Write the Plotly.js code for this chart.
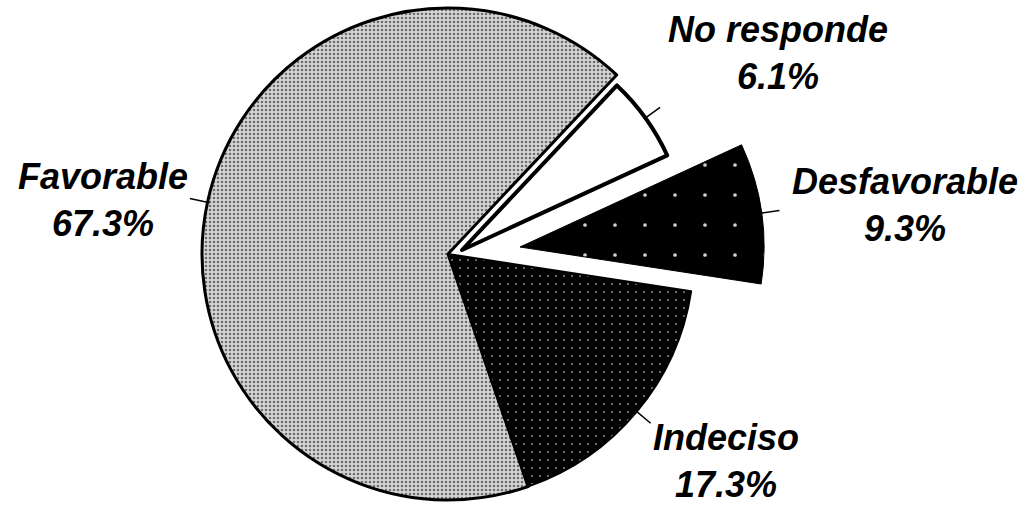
<!DOCTYPE html>
<html><head><meta charset="utf-8">
<script src="https://cdn.plot.ly/plotly-3.0.1.min.js"></script>
<style>html,body{margin:0;padding:0;background:#fff}#chart{width:1029px;height:507px}</style>
</head><body><div id="chart"></div>
<script>
// Data
const categories = ['Favorable', 'No responde', 'Desfavorable', 'Indeciso'];
const shares = [67.3, 6.1, 9.3, 17.3];

// Styling per slice
const sliceBg = ['#d6d6d6', '#ffffff', '#000000', '#030303'];
const sliceFg = ['#6e6e6e', '#ffffff', '#d0d0d0', '#8a8a8a'];
const sliceShape = ['.', '', '.', '.'];
const sliceSize = [4, 8, 30, 8];
const sliceSolidity = [0.33, 0.1, 0.012, 0.05];
const sliceLine = [3, 4, 1, 2];

// Label block centres in pixels (layout)
const labelCentre = [[103, 200], [778, 53], [905, 205], [726, 461]];

const W = 1029, H = 507, ROT = 161;
function dom(cx, cy, r) {
  return {x: [(cx - r) / W, (cx + r) / W], y: [1 - (cy + r) / H, 1 - (cy - r) / H]};
}
// which slices each layer shows, and where the layer sits (exploded pieces)
const layers = [
  {show: [0, 3], cx: 448, cy: 254, r: 246},
  {show: [1], cx: 462, cy: 250, r: 226},
  {show: [2], cx: 520, cy: 247, r: 244}
];

const traces = layers.map(L => {
  const vis = categories.map((c, i) => L.show.includes(i));
  return {
    type: 'pie',
    labels: categories,
    values: shares,
    sort: false,
    direction: 'clockwise',
    rotation: ROT,
    domain: dom(L.cx, L.cy, L.r),
    textinfo: 'none',
    marker: {
      colors: vis.map((v, i) => v ? sliceBg[i] : 'rgba(0,0,0,0)'),
      line: {color: vis.map(v => v ? '#000' : 'rgba(0,0,0,0)'), width: vis.map((v, i) => v ? sliceLine[i] : 0)},
      pattern: {
        shape: vis.map((v, i) => v ? sliceShape[i] : ''),
        bgcolor: vis.map((v, i) => v ? sliceBg[i] : 'rgba(0,0,0,0)'),
        fgcolor: vis.map((v, i) => v ? sliceFg[i] : 'rgba(0,0,0,0)'),
        size: sliceSize,
        solidity: sliceSolidity
      }
    },
    hoverinfo: 'skip',
    showlegend: false
  };
});

// labels and short leader ticks along each slice's bisector
const total = shares.reduce((a, b) => a + b, 0);
const annotations = [], shapes = [];
let cum = 0;
categories.forEach((c, i) => {
  const mid = (ROT + (cum + shares[i] / 2) * 360 / total) * Math.PI / 180;
  cum += shares[i];
  const L = layers.find(l => l.show.includes(i));
  const dx = Math.sin(mid), dy = -Math.cos(mid);
  const r0 = L.r - 2, r1 = L.r + 18;
  shapes.push({type: 'line', xref: 'paper', yref: 'paper',
    x0: (L.cx + dx * r0) / W, y0: 1 - (L.cy + dy * r0) / H,
    x1: (L.cx + dx * r1) / W, y1: 1 - (L.cy + dy * r1) / H,
    line: {color: '#000', width: 1.5}});
  annotations.push({
    xref: 'paper', yref: 'paper',
    x: labelCentre[i][0] / W, y: 1 - labelCentre[i][1] / H,
    xanchor: 'center', yanchor: 'middle', align: 'center',
    showarrow: false,
    text: c + '<br>' + shares[i].toFixed(1) + '%',
    font: {family: 'Liberation Sans, Arial, sans-serif', size: 36, color: '#000', weight: 'bold', style: 'italic'}
  });
});

Plotly.newPlot('chart', traces, {
  width: W, height: H,
  margin: {l: 0, r: 0, t: 0, b: 0},
  paper_bgcolor: '#fff',
  showlegend: false,
  annotations: annotations,
  shapes: shapes
}, {displayModeBar: false, staticPlot: true});
</script>
</body></html>
